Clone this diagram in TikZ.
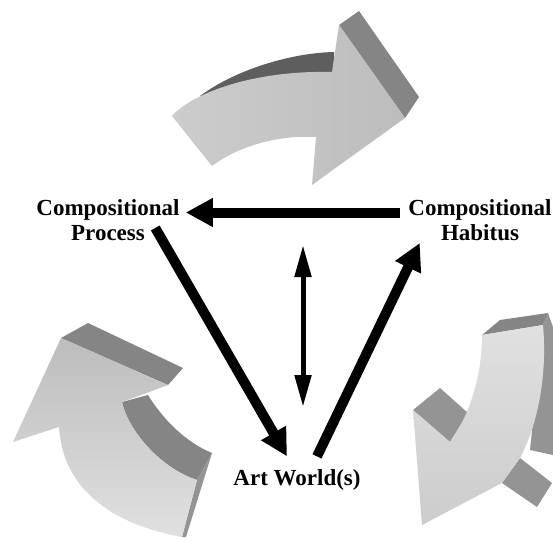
\documentclass[tikz,border=0pt]{standalone}
\usepackage{fontspec}
\setmainfont{Liberation Serif}
\usetikzlibrary{arrows.meta}

\definecolor{paleface}{gray}{0.88}
\definecolor{lightface}{gray}{0.80}
\definecolor{dimface}{gray}{0.74}
\definecolor{midface}{gray}{0.52}
\definecolor{darkface}{gray}{0.37}
\definecolor{softface}{gray}{0.58}

\begin{document}
\begin{tikzpicture}[
    x=1pt, y=-1pt,
    font=\fontsize{23}{25}\selectfont\bfseries,
    lbl/.style={
        align=center,
        inner sep=2pt
    },
    bigarrow/.style={-{Triangle[length=27pt,width=27pt]}, line width=10pt, draw=black},
    dblarrow/.style={{Triangle[length=32pt,width=16pt]}-{Triangle[length=32pt,width=16pt]}, line width=5pt, draw=black},
    side/.style={fill=#1, draw=none},
    front/.style={draw=none}
]
    \useasboundingbox (0,0) rectangle (553,540);

    % top 3D arrow (pointing right)
    \fill[side=darkface] (200,96) .. controls (235,70) and (290,53) .. (334,52)
        -- (334,80) -- (200,100) -- cycle;
    \fill[side=midface] (339,25) -- (359,11) -- (419,97) -- (405,118) -- cycle;
    \shade[front, left color=lightface, right color=dimface]
        (172,116) .. controls (190,95) and (250,70) .. (332,72)
        -- (339,25) -- (405,118) -- (312,185) -- (316,137)
        .. controls (280,135) and (240,145) .. (212,166) -- cycle;

    % left 3D arrow (pointing up-left)
    \fill[side=midface] (122,402) -- (148,395) .. controls (162,418) and (185,442) .. (212,453)
        -- (197,480) .. controls (160,468) and (128,430) .. (122,402);
    \fill[side=midface] (61,338) -- (88,323) -- (183,368) -- (168,385) -- cycle;
    \fill[side=softface] (197,480) -- (212,453) -- (186,537) -- (182,537) -- cycle;
    \shade[front, top color=dimface, bottom color=paleface]
        (13,442) -- (61,338) -- (168,385) -- (122,402)
        .. controls (128,430) and (160,468) .. (197,480) -- (182,537)
        .. controls (100,522) and (62,480) .. (59,427) -- cycle;

    % right 3D arrow (pointing down-left)
    \fill[side=midface] (482,335) -- (500,320) -- (548,313) -- (543,325) -- cycle;
    \fill[side=softface] (543,325) -- (548,313) -- (553,327) -- (553,455) -- (530,450) -- cycle;
    \fill[side=softface] (413,410) -- (440,388) -- (468,413) -- (450,442) -- cycle;
    \fill[side=softface] (502,483) -- (520,458) -- (552,483) -- (537,507) -- cycle;
    \shade[front, top color=paleface, bottom color=lightface]
        (413,410) -- (450,442) .. controls (470,415) and (482,375) .. (482,335)
        -- (543,325) .. controls (547,370) and (540,420) .. (520,458)
        -- (502,483) -- (422,525) -- cycle;

    % labels
    \node[lbl] (proc) at (108,220.5) {Compositional\\Process};
    \node[lbl] (habit) at (480,220.5) {Compositional\\Habitus};
    \node[lbl] (art) at (297,479.5) {Art World(s)};

    \coordinate (vtop) at (303,245);
    \coordinate (vbot) at (303,407);

    % links
    \draw[bigarrow] ([shift={(-6,-8)}]habit.west) -- ([shift={(4,-8)}]proc.east);
    \draw[bigarrow] ([shift={(-26.5,7.5)}]proc.east) -- ([shift={(-10,-10.5)}]art.north);
    \draw[bigarrow] ([shift={(20,-10.5)}]art.north) -- ([shift={(13.5,22.5)}]habit.west);
    \draw[dblarrow] (vtop) -- (vbot);

\end{tikzpicture}
\end{document}
